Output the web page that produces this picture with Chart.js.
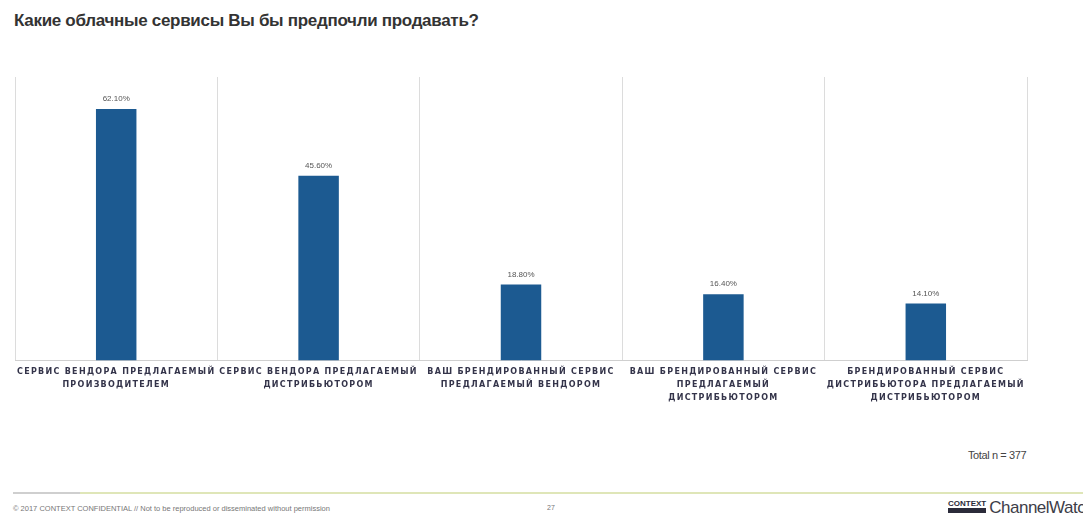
<!DOCTYPE html>
<html lang="ru">
<head>
<meta charset="utf-8">
<title>Облачные сервисы</title>
<script src="https://cdn.jsdelivr.net/npm/chart.js@4"></script>
<style>
  html, body { margin: 0; padding: 0; background: #fff; }
  body { width: 1083px; height: 518px; position: relative; overflow: hidden; font-family: "Liberation Sans", Arial, sans-serif; }
  .title { position: absolute; left: 14px; top: 11px; font-size: 17px; font-weight: bold; color: #333; letter-spacing: -0.3px; }
  .chart-box { position: absolute; left: 0; top: 60px; width: 1083px; height: 349px; }
  .total { position: absolute; left: 968px; top: 449px; font-size: 11px; color: #444; letter-spacing: -0.4px; }
  .rule { position: absolute; left: 13px; top: 492px; width: 1070px; height: 2px; background: #dfe6b8; }
  .rule-grey { position: absolute; left: 13px; top: 492px; width: 67px; height: 2px; background: #cfcfcf; }
  .foot { position: absolute; left: 13px; top: 504px; font-size: 7.5px; color: #777; }
  .page { position: absolute; left: 547px; top: 504px; font-size: 7px; color: #777; }
  .logo { position: absolute; left: 948px; top: 498px; white-space: nowrap; }
  .logo .ctx { display: inline-block; font-size: 8px; font-weight: bold; color: #2b2b3a; vertical-align: top; margin-top: 2px; border-bottom: 5px solid #2b2b3a; line-height: 8px; }
  .logo .cw { font-size: 17px; color: #3d3d48; letter-spacing: -0.5px; margin-left: 3px; }
</style>
</head>
<body>
<div class="title">Какие облачные сервисы Вы бы предпочли продавать?</div>
<div class="chart-box"><canvas id="chart"></canvas></div>
<div class="total">Total n = 377</div>
<div class="rule"></div>
<div class="rule-grey"></div>
<div class="foot">© 2017 CONTEXT CONFIDENTIAL // Not to be reproduced or disseminated without permission</div>
<div class="page">27</div>
<div class="logo"><span class="ctx">CONTEXT</span><span class="cw">ChannelWatch</span></div>
<script>
// answer options, one wrapped label per bar
const categories = [
  ['СЕРВИС ВЕНДОРА ПРЕДЛАГАЕМЫЙ', 'ПРОИЗВОДИТЕЛЕМ'],
  ['СЕРВИС ВЕНДОРА ПРЕДЛАГАЕМЫЙ', 'ДИСТРИБЬЮТОРОМ'],
  ['ВАШ БРЕНДИРОВАННЫЙ СЕРВИС', 'ПРЕДЛАГАЕМЫЙ ВЕНДОРОМ'],
  ['ВАШ БРЕНДИРОВАННЫЙ СЕРВИС', 'ПРЕДЛАГАЕМЫЙ', 'ДИСТРИБЬЮТОРОМ'],
  ['БРЕНДИРОВАННЫЙ СЕРВИС', 'ДИСТРИБЬЮТОРА ПРЕДЛАГАЕМЫЙ', 'ДИСТРИБЬЮТОРОМ']
];
// share of respondents, %
const shares = [62.1, 45.6, 18.8, 16.4, 14.1];
const axisMax = 70;

// prints the percentage above each bar
const valueLabels = {
  id: 'valueLabels',
  afterDatasetsDraw(chart) {
    const ctx = chart.ctx;
    const meta = chart.getDatasetMeta(0);
    ctx.save();
    ctx.letterSpacing = '0px';
    ctx.font = '8px "Liberation Sans", Arial, sans-serif';
    ctx.fillStyle = '#555';
    ctx.textAlign = 'center';
    ctx.textBaseline = 'bottom';
    meta.data.forEach((bar, i) => {
      ctx.fillText(shares[i].toFixed(2) + '%', bar.x, bar.y - 6);
    });
    ctx.restore();
  }
};

// wide spaced caps for the category labels
const spacedTicks = {
  id: 'spacedTicks',
  beforeDraw(chart) { chart.ctx.letterSpacing = '1.3px'; },
  afterDraw(chart) { chart.ctx.letterSpacing = '0px'; }
};

new Chart(document.getElementById('chart'), {
  type: 'bar',
  data: {
    labels: categories,
    datasets: [{
      data: shares,
      backgroundColor: '#1c5a91',
      categoryPercentage: 1,
      barPercentage: 0.2
    }]
  },
  options: {
    responsive: true,
    maintainAspectRatio: false,
    animation: false,
    layout: { padding: { left: 15, right: 56, top: 17, bottom: 0 } },
    plugins: { legend: { display: false }, tooltip: { enabled: false } },
    scales: {
      x: {
        grid: { offset: true, color: '#dcdcdc', drawTicks: false },
        border: { color: '#cfcfcf' },
        ticks: {
          autoSkip: false,
          maxRotation: 0,
          padding: 5,
          color: '#34344a',
          font: { family: '"DejaVu Sans", sans-serif', size: 8, weight: 'bold', lineHeight: 1.6 }
        }
      },
      y: {
        display: false,
        min: 0,
        max: axisMax
      }
    }
  },
  plugins: [valueLabels, spacedTicks]
});
</script>
</body>
</html>
